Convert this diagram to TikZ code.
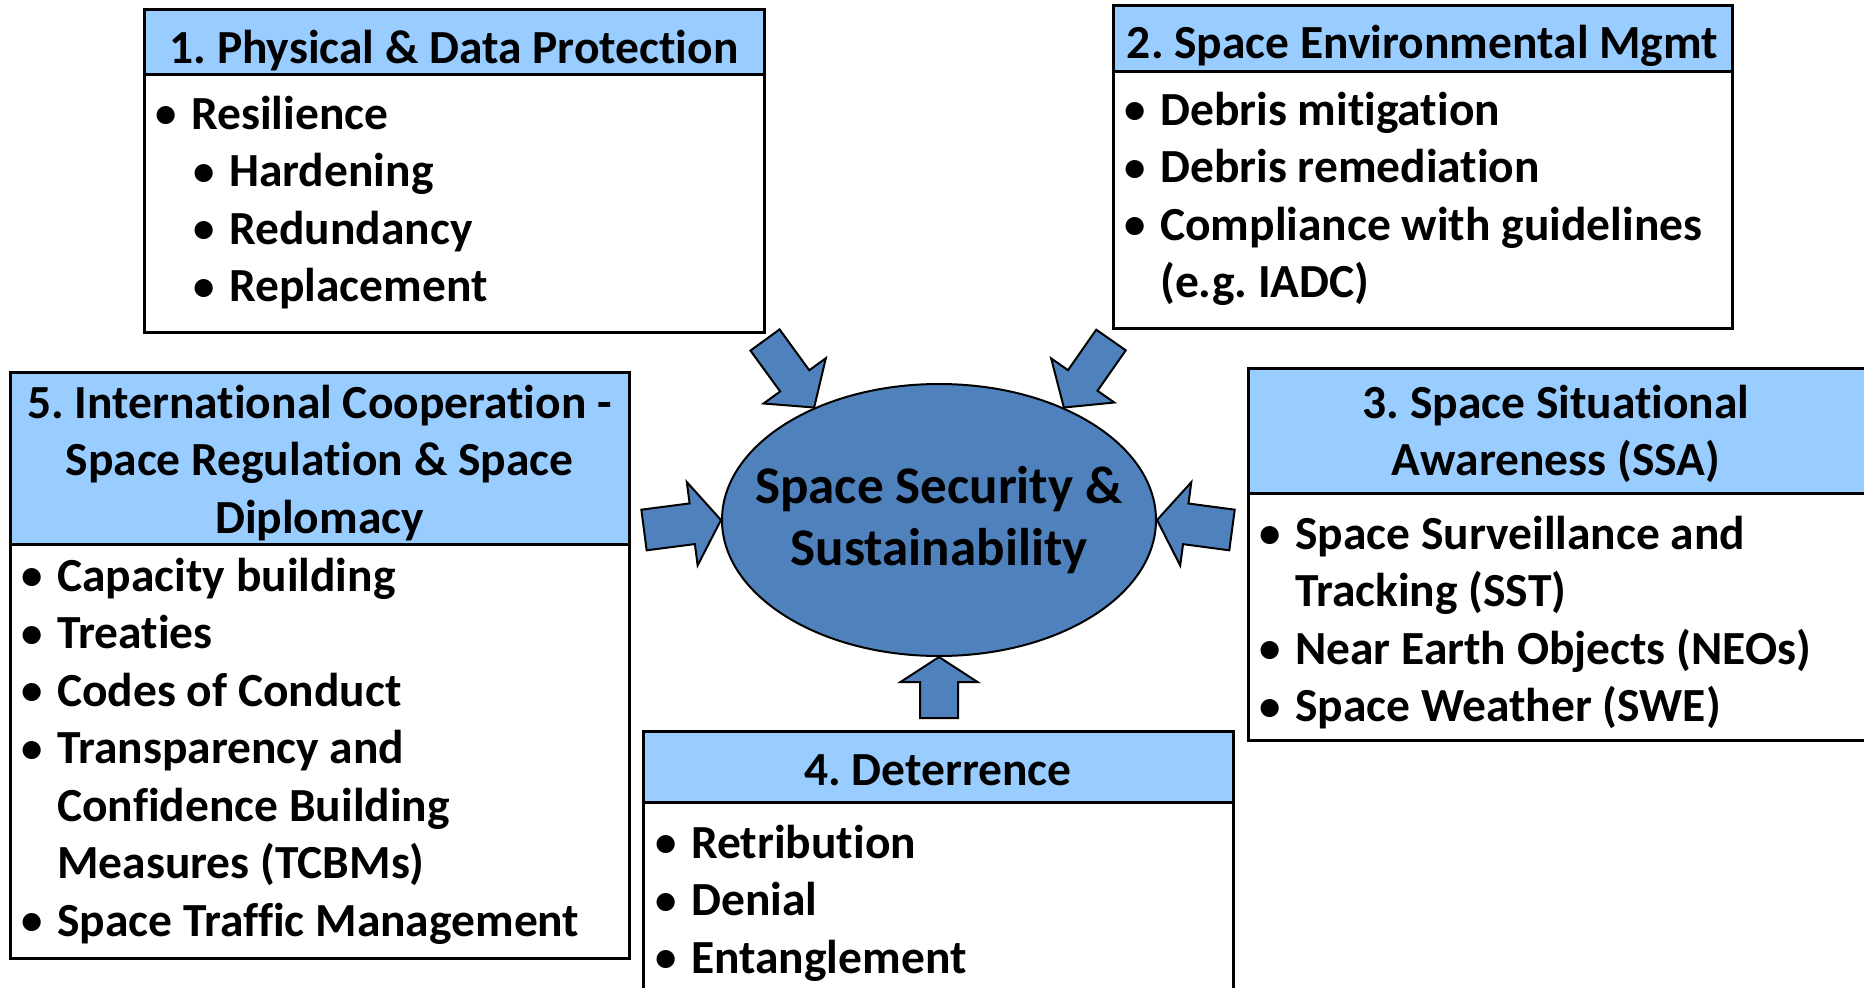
\documentclass[tikz,border=0pt]{standalone}
\usepackage{graphicx}
\usepackage{fontspec}
\setmainfont{Carlito}[Ligatures={NoCommon,NoContextual,NoRequired},RawFeature={-liga;-calt;-clig}]
\usetikzlibrary{shapes.geometric,calc}
\frenchspacing

\definecolor{hdrblue}{RGB}{153,204,255}
\definecolor{coreblue}{RGB}{79,129,189}

\newcommand{\bul}{\makebox[0pt][c]{\raisebox{1.5pt}{\scalebox{0.9}{•}}}\hspace{25pt}}
\newcommand{\ind}{\hspace*{25pt}}
\newcommand{\fatarrow}[5]{%
  \path let \p1 = ($(#2)-(#1)$), \n1 = {atan2(\y1,\x1)}, \n2 = {veclen(\x1,\y1)}
    in (#1) pic[rotate=\n1] {fatarrow={\n2}{#3}{#4}{#5}};}

\begin{document}
\begin{tikzpicture}[x=1pt, y=-1pt,
  font=\fontsize{47.5}{57.5}\selectfont\bfseries,
  hdr/.style = {draw, line width=3pt, fill=hdrblue, anchor=north west,
    inner sep=0pt, outer sep=0pt},
  body/.style = {draw, line width=3pt, fill=white, anchor=north west,
    inner sep=0pt, outer sep=0pt},
  title/.style = {anchor=base, inner sep=0pt, align=flush center},
  list/.style = {anchor=base west, inner sep=0pt, align=flush left},
  pics/fatarrow/.style n args={4}{code={
    \draw[line width=2pt, fill=coreblue, line join=miter]
      (0pt,#2pt) -- ({#1-#4pt},#2pt) -- ({#1-#4pt},#3pt) -- ({#1+0pt},0pt)
      -- ({#1-#4pt},-#3pt) -- ({#1-#4pt},-#2pt) -- (0pt,-#2pt) -- cycle;}}]
	\useasboundingbox (0,0) rectangle (1864,988);
	\clip (0,0) rectangle (1864,988);
	\fill[white] (0,0) rectangle (1864,988);

	% 1
	\node[hdr, minimum width=620pt, minimum height=65pt] (h1) at (144,9) {};
	\node[body, minimum width=620pt, minimum height=258pt] (b1) at (h1.south west) {};
	\node[title, text width=620pt] (ttl1) at (454,63) {1. Physical \& Data Protection};
	\node[list, text width=580pt] (l1) at (166,129)
	  {\bul Resilience\\ \hspace*{38pt}\bul Hardening\\ \hspace*{38pt}\bul Redundancy\\ \hspace*{38pt}\bul Replacement};

	% 2
	\node[hdr, minimum width=619pt, minimum height=66pt] (h2) at (1113,5) {};
	\node[body, minimum width=619pt, minimum height=257pt] (b2) at (h2.south west) {};
	\node[title, text width=619pt] (ttl2) at (1422.5,58.5) {2. Space Environmental Mgmt};
	\node[list, text width=580pt] (l2) at (1135,125)
	  {\bul Debris mitigation\\ \bul Debris remediation\\ \bul Compliance with guidelines\\ \ind (e.g. IADC)};

	% 3
	\node[hdr, minimum width=632pt, minimum height=125pt] (h3) at (1248,368) {};
	\node[body, minimum width=632pt, minimum height=247pt] (b3) at (h3.south west) {};
	\node[title, text width=600pt] (ttl3) at (1556,418) {3. Space Situational\\ Awareness (SSA)};
	\node[list, text width=590pt] (l3) at (1270,549)
	  {\bul Space Surveillance and\\ \ind Tracking (SST)\\ \bul Near Earth Objects (NEOs)\\ \bul Space Weather (SWE)};

	% 4
	\node[hdr, minimum width=590pt, minimum height=71pt] (h4) at (643,731) {};
	\node[body, minimum width=590pt, minimum height=300pt] (b4) at (h4.south west) {};
	\node[title, text width=590pt] (ttl4) at (938,785.5) {4. Deterrence};
	\node[list, text width=560pt] (l4) at (666,858)
	  {\bul Retribution\\ \bul Denial\\ \bul Entanglement};

	% 5
	\node[hdr, minimum width=619pt, minimum height=172pt] (h5) at (10,372) {};
	\node[body, minimum width=619pt, minimum height=414pt] (b5) at (h5.south west) {};
	\node[title, text width=619pt] (ttl5) at (319.5,418) {5. International Cooperation -\\ Space Regulation \& Space\\ Diplomacy};
	\node[list, text width=590pt] (l5) at (32,591)
	  {\bul Capacity building\\ \bul Treaties\\ \bul Codes of Conduct\\ \bul Transparency and\\ \ind Confidence Building\\ \ind Measures (TCBMs)\\ \bul Space Traffic Management};

	% centre
	\node[ellipse, draw, line width=2pt, fill=coreblue, minimum width=434pt, minimum height=272pt,
	  inner sep=0pt] (core) at (939,520) {};
	\node[align=center, inner sep=0pt, font=\fontsize{53}{62}\selectfont\bfseries] (coretxt) at (core.center)
	  {Space Security \&\\ Sustainability};

	\coordinate (a1) at (765,340);
	\coordinate (a2) at (1111,340);
	\coordinate (a3) at (644,530);
	\coordinate (a4) at (1232,530);
	\coordinate (a5) at (939,718);
	\fatarrow{a1}{core.138}{18}{38.5}{33}
	\fatarrow{a2}{core.42}{18}{38.5}{33}
	\fatarrow{a3}{core.west}{20.5}{42}{29}
	\fatarrow{a4}{core.east}{20.5}{42}{29}
	\fatarrow{a5}{core.south}{19}{38.5}{25}
\end{tikzpicture}
\end{document}
